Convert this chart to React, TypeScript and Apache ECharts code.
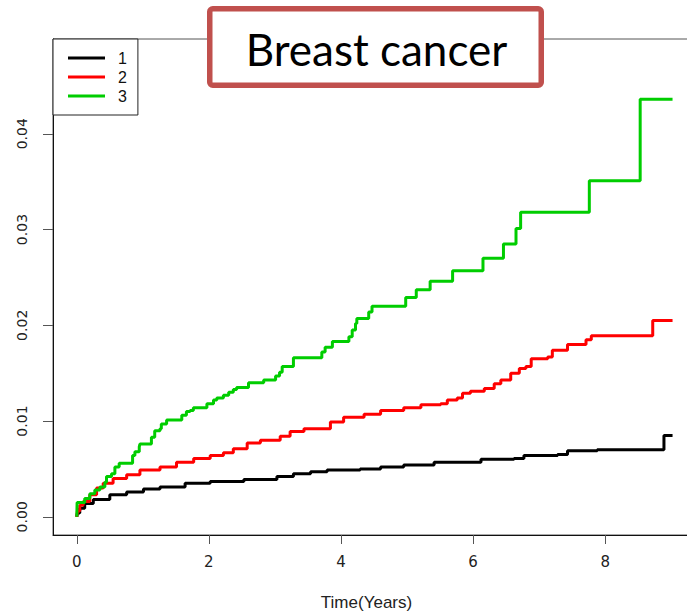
import React, { useEffect, useRef } from "react";
import * as echarts from "echarts";

const groupNames = ["1", "2", "3"];
const xTicks = [0, 2, 4, 6, 8];
const yTicks = [0, 0.01, 0.02, 0.03, 0.04];
const xAxisTitle = "Time(Years)";
const chartTitle = "Breast cancer";

// [time in years, cumulative incidence]
const group1: [number, number][] = [
  [0, 0], [0.01, 0.0004], [0.045, 0.0009], [0.12, 0.0014], [0.25, 0.0018], [0.5, 0.0023],
  [0.755, 0.0026], [1.01, 0.0029], [1.26, 0.0031], [1.64, 0.0035], [2.02, 0.0037],
  [2.53, 0.0039], [3.03, 0.0042], [3.28, 0.0045], [3.54, 0.0047], [3.79, 0.0049],
  [4.29, 0.005], [4.6, 0.0052], [4.95, 0.0054], [5.41, 0.0057], [6.12, 0.006],
  [6.62, 0.0061], [6.77, 0.0064], [7.28, 0.0065], [7.43, 0.0069], [7.88, 0.007],
  [8.89, 0.0085], [9.02, 0.0085],
];

const group2: [number, number][] = [
  [0, 0], [0.01, 0.0006], [0.045, 0.0012], [0.096, 0.0016], [0.197, 0.0023], [0.3, 0.003],
  [0.4, 0.0035], [0.55, 0.004], [0.755, 0.0044], [0.956, 0.0049], [1.26, 0.0052],
  [1.51, 0.0057], [1.77, 0.0061], [2.02, 0.0064], [2.22, 0.0067], [2.37, 0.0071],
  [2.58, 0.0077], [2.78, 0.008], [3.08, 0.0084], [3.23, 0.0089], [3.44, 0.0092],
  [3.84, 0.0099], [4.04, 0.0104], [4.35, 0.0107], [4.6, 0.0111], [4.95, 0.0114],
  [5.21, 0.0117], [5.51, 0.0118], [5.61, 0.0122], [5.76, 0.0124], [5.84, 0.0129],
  [5.96, 0.0131], [6.17, 0.0134], [6.32, 0.0139], [6.42, 0.0143], [6.57, 0.015],
  [6.7, 0.0155], [6.8, 0.0157], [6.88, 0.0165], [7.13, 0.0167], [7.2, 0.0174],
  [7.43, 0.018], [7.71, 0.0185], [7.79, 0.0189], [8.72, 0.0205], [9.02, 0.0205],
];

const group3: [number, number][] = [
  [0, 0], [0.005, 0.0015], [0.12, 0.0019], [0.197, 0.0024], [0.273, 0.0028], [0.35, 0.0031],
  [0.425, 0.0036], [0.45, 0.0042], [0.526, 0.0045], [0.577, 0.0052], [0.642, 0.0056],
  [0.845, 0.0064], [0.88, 0.0068], [0.946, 0.0073], [0.956, 0.0076], [1.13, 0.0083],
  [1.18, 0.009], [1.26, 0.0092], [1.28, 0.0097], [1.36, 0.0101], [1.59, 0.0106],
  [1.66, 0.011], [1.715, 0.0111], [1.765, 0.0114], [1.97, 0.0118], [2.07, 0.0122],
  [2.12, 0.0124], [2.22, 0.0127], [2.3, 0.013], [2.37, 0.0133], [2.42, 0.0135],
  [2.6, 0.014], [2.83, 0.0143], [3.01, 0.0147], [3.07, 0.0151], [3.11, 0.0157],
  [3.28, 0.0166], [3.71, 0.0172], [3.76, 0.0177], [3.87, 0.0183], [4.12, 0.0188],
  [4.17, 0.0195], [4.22, 0.0202], [4.24, 0.0207], [4.42, 0.0214], [4.47, 0.022],
  [4.98, 0.0229], [5.14, 0.0237], [5.35, 0.0246], [5.69, 0.0257], [6.15, 0.027],
  [6.46, 0.0285], [6.65, 0.0301], [6.72, 0.0318], [7.76, 0.0351], [8.53, 0.0436],
  [9.02, 0.0436],
];

const seriesData = [group1, group2, group3];
const seriesColors = ["#000000", "#FF0000", "#00CD00"];

export default function App() {
  const ref = useRef<HTMLDivElement>(null);
  useEffect(() => {
    if (!ref.current) return;
    const chart = echarts.init(ref.current, null, { renderer: "svg" });
    chart.setOption({
      animation: false,
      backgroundColor: "#ffffff",
      grid: {
        left: 53, top: 39, right: 0, bottom: 78,
        show: true, borderColor: "#555", borderWidth: 1,
      },
      xAxis: {
        type: "value", min: -0.36, max: 9.36,
        axisLine: { show: true, onZero: false, lineStyle: { color: "#111", width: 1 } },
        axisTick: { show: true, length: 9, customValues: xTicks, lineStyle: { color: "#555" } },
        axisLabel: { customValues: xTicks, margin: 19, fontFamily: "DejaVu Sans", fontSize: 15, color: "#222" },
        splitLine: { show: false },
      },
      yAxis: {
        type: "value", min: -0.0019, max: 0.0499,
        axisLine: { show: true, onZero: false, lineStyle: { color: "#111", width: 1 } },
        axisTick: { show: true, length: 10, customValues: yTicks, lineStyle: { color: "#555" } },
        axisLabel: {
          customValues: yTicks, rotate: 90, margin: 24,
          fontFamily: "DejaVu Sans", fontSize: 14, color: "#222",
          formatter: (v: number) => v.toFixed(2),
        },
        splitLine: { show: false },
      },
      legend: {
        orient: "vertical", left: 53, top: 39,
        data: groupNames,
        icon: "rect", itemWidth: 37, itemHeight: 3, itemGap: 0,
        padding: [9.5, 11, 9.5, 15],
        borderColor: "#222", borderWidth: 1, backgroundColor: "#fff",
        textStyle: { fontFamily: "Liberation Sans", fontSize: 16, color: "#111", lineHeight: 19, padding: [0, 0, 0, 8] },
      },
      series: groupNames.map((name, i) => ({
        name, type: "line", step: "end", symbol: "none", showSymbol: false,
        data: seriesData[i],
        lineStyle: { color: seriesColors[i], width: 3 },
        itemStyle: { color: seriesColors[i] },
        z: 3 + i,
      })),
      graphic: [
        {
          type: "rect", z: 100,
          shape: { x: 209.75, y: 8.75, width: 331.5, height: 76.5, r: 3 },
          style: { fill: "#fff", stroke: "#C0504D", lineWidth: 5.5 },
        },
        {
          type: "text", z: 101, x: 376.5, y: 48.5,
          style: { text: chartTitle, fontFamily: "Lato", fontSize: 44, fill: "#000", textAlign: "center", textVerticalAlign: "middle" },
        },
        {
          type: "text", z: 101, x: 366.5, y: 602.4,
          style: { text: xAxisTitle, fontFamily: "Liberation Sans", fontSize: 17, fill: "#222", textAlign: "center", textVerticalAlign: "middle" },
        },
      ],
    });
    return () => chart.dispose();
  }, []);
  return (
    <div style={{ position: "fixed", left: 0, top: 0, width: 687, height: 613, overflow: "hidden" }}>
      <div ref={ref} style={{ width: 695, height: 613 }} />
    </div>
  );
}
